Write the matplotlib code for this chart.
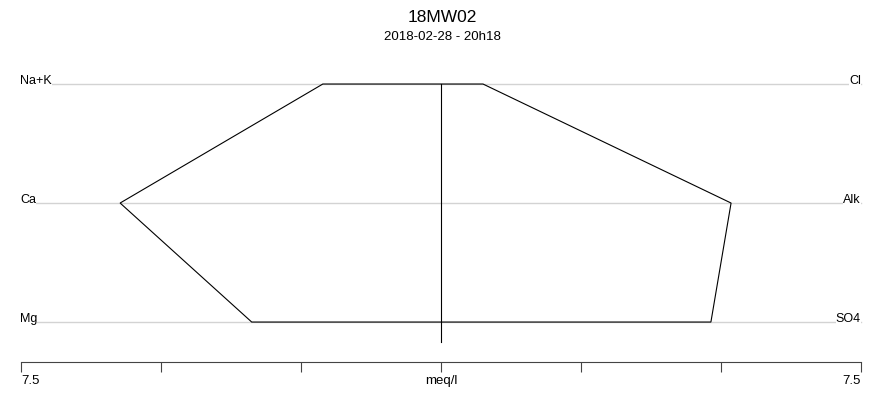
import matplotlib
matplotlib.use('Agg')
import matplotlib.pyplot as plt

# ==========================================
# DATA
# ==========================================

cations = ['Na+K', 'Ca', 'Mg']
anions = ['Cl', 'Alk', 'SO4']

cation_meq = [2.11, 5.73, 3.38]
anion_meq = [0.75, 5.18, 4.82]

row_y = [3, 2, 1]

x_ticks = [-7.5, -5, -2.5, 0, 2.5, 5, 7.5]
x_tick_labels = ['7.5', '', '', 'meq/l', '', '', '7.5']

title = '18MW02'
subtitle = '2018-02-28 - 20h18'

plt.rcParams['font.family'] = ['Liberation Sans', 'DejaVu Sans']

# ==========================================
# FIGURE
# ==========================================

fig = plt.figure(figsize=(8.84, 3.95), dpi=100)
ax = fig.add_axes([0, 0, 1, 1])
ax.set_xlim(-7.875, 7.911)
ax.set_ylim(0.387, 3.706)

# reference lines + labels
for name_l, name_r, y in zip(cations, anions, row_y):
    ax.plot([-7.5, 7.5], [y, y], color='#d3d3d3', lw=1, zorder=1)
    ax.text(-7.52, y, name_l, ha='left', va='baseline', fontsize=9,
            bbox=dict(facecolor='white', edgecolor='none', pad=0), zorder=2)
    ax.text(7.5, y, name_r, ha='right', va='baseline', fontsize=9,
            bbox=dict(facecolor='white', edgecolor='none', pad=0), zorder=2)

# stiff polygon
xs = [-v for v in cation_meq] + anion_meq[::-1]
ys = row_y + row_y[::-1]
ax.fill(xs, ys, facecolor='none', edgecolor='black', lw=0.8, zorder=3)

# centre line
ax.plot([0, 0], [row_y[0], 0.832], color='black', lw=0.8, zorder=3)

# bottom axis
for s in ['top', 'right', 'left']:
    ax.spines[s].set_visible(False)
ax.spines['bottom'].set_position(('data', 0.664))
ax.spines['bottom'].set_bounds(-7.5, 7.5)
ax.spines['bottom'].set_color('#444444')
ax.spines['bottom'].set_linewidth(0.8)
ax.set_xticks(x_ticks)
ax.set_xticklabels(x_tick_labels)
ax.tick_params(axis='x', direction='out', length=7.5, width=0.8,
               color='#444444', labelsize=9.5, pad=2)
labels = ax.get_xticklabels()
labels[0].set_ha('left')
labels[-1].set_ha('right')
ax.set_yticks([])

# titles
fig.text(0.5, 1 - 17 / 395, title, ha='center', va='center', fontsize=12.5)
fig.text(0.5, 1 - 37 / 395, subtitle, ha='center', va='center', fontsize=9.5)

plt.savefig('out.png', dpi=100)
